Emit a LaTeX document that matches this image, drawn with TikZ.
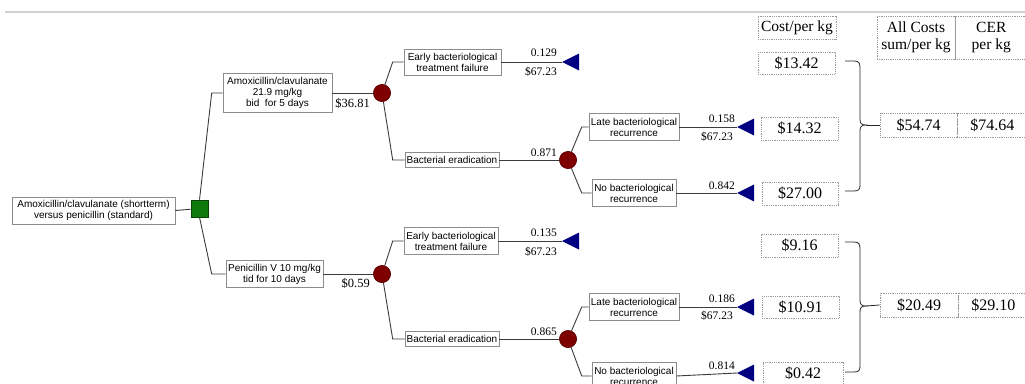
\documentclass[tikz,border=0pt]{standalone}
\usepackage{fontspec}
\setmainfont{Liberation Serif}
\setsansfont{Liberation Sans}
\definecolor{treeline}{HTML}{3C3C3C}
\definecolor{boxline}{HTML}{8C8C8C}
\definecolor{chancered}{HTML}{7E0000}
\definecolor{termblue}{HTML}{000080}
\definecolor{decgreen}{HTML}{0E7A0E}
\definecolor{dotline}{HTML}{9A9A9A}
\begin{document}
\begin{tikzpicture}[x=1pt,y=-1pt,
  tbox/.style={draw=boxline, line width=0.6pt, fill=white, inner sep=1pt, align=center,
    font=\sffamily\fontsize{10}{11}\selectfont},
  cbox/.style={draw=dotline, line width=0.6pt, dash pattern=on 1pt off 0.8pt, inner sep=0pt,
    align=center, font=\fontsize{16}{17}\selectfont},
  hbox/.style={cbox, font=\fontsize{15.5}{17}\selectfont},
  chance/.style={circle, fill=chancered, draw=chancered!75!black, line width=0.5pt, minimum size=17pt, inner sep=0pt},
  decision/.style={rectangle, fill=decgreen, draw=decgreen!55!black, line width=0.6pt, minimum size=17pt, inner sep=0pt},
  prob/.style={anchor=east, inner sep=0pt, font=\fontsize{11.5}{12}\selectfont},
  money/.style={anchor=east, inner sep=0pt, font=\fontsize{12.5}{13}\selectfont},
  conn/.style={draw=treeline, line width=0.9pt},
  term/.style={fill=termblue},
  bracestyle/.style={draw=black!85, line width=0.8pt}
]
\useasboundingbox (0,0) rectangle (1025,383);
\fill[white] (0,0) rectangle (1025,383);
\clip (0,0) rectangle (1025,383);

% page rule at the top
\draw[black!18, line width=2pt] (5,12) -- (1025,12);

% ---------------- tree nodes ----------------
\node[tbox, minimum width=163pt, minimum height=27pt] (root) at (93.5,210.5)
  {Amoxicillin/clavulanate (shortterm)\\versus penicillin (standard)};
\node[decision] (sq) at (199.5,208.5) {};

\node[tbox, minimum width=109pt, minimum height=39pt] (amx) at (277.5,93)
  {Amoxicillin/clavulanate\\21.9 mg/kg\\bid\ \ for 5 days};
\node[tbox, minimum width=97pt, minimum height=27pt] (pen) at (274.5,274)
  {Penicillin V 10 mg/kg\\tid for 10 days};

\node[chance] (c1) at (382,93) {};
\node[chance] (c2) at (382,274) {};
\node[money] (m1) at (370,103) {\$36.81};
\node[money] (m2) at (370,283) {\$0.59};

% upper sub-tree
\node[tbox, minimum width=97pt, minimum height=26pt] (ef1) at (452.5,62)
  {Early bacteriological\\treatment failure};
\node[tbox, minimum width=94pt, minimum height=15pt] (be1) at (452,160)
  {Bacterial eradication};
\node[chance] (cb1) at (568,160) {};
\node[tbox, minimum width=90pt, minimum height=27pt] (lr1) at (634,127)
  {Late bacteriological\\recurrence};
\node[tbox, minimum width=84pt, minimum height=27pt] (nr1) at (634,193)
  {No bacteriological\\recurrence};
\coordinate (t1) at (562,62);
\coordinate (t2) at (737,127);
\coordinate (t3) at (737,193);

% lower sub-tree
\node[tbox, minimum width=94pt, minimum height=27pt] (ef2) at (451,241)
  {Early bacteriological\\treatment failure};
\node[tbox, minimum width=94pt, minimum height=15pt] (be2) at (452,339)
  {Bacterial eradication};
\node[chance] (cb2) at (568,339) {};
\node[tbox, minimum width=90pt, minimum height=27pt] (lr2) at (634,307)
  {Late bacteriological\\recurrence};
\node[tbox, minimum width=84pt, minimum height=27pt] (nr2) at (634,376)
  {No bacteriological\\recurrence};
\coordinate (t4) at (562,241);
\coordinate (t5) at (737,307);
\coordinate (t6) at (737,373);

% ---------------- connectors ----------------
\draw[conn] (root.east) -- (sq);
\draw[conn] (sq.north) -- ([xshift=-11pt]amx.west) -- (amx.west);
\draw[conn] (sq.south) -- ([xshift=-14pt]pen.west) -- (pen.west);
\draw[conn] (amx.east) -- (c1);
\draw[conn] (pen.east) -- (c2);

\draw[conn] (c1) -- ([xshift=-11pt]ef1.west) -- (ef1.west);
\draw[conn] (c1) -- ([xshift=-12pt]be1.west) -- (be1.west);
\draw[conn] (ef1.east) -- (t1);
\draw[conn] (be1.east) -- (cb1);
\draw[conn] (cb1) -- ([xshift=-7pt]lr1.west) -- (lr1.west);
\draw[conn] (cb1) -- ([xshift=-10pt]nr1.west) -- (nr1.west);
\draw[conn] (lr1.east) -- (t2);
\draw[conn] (nr1.east) -- (t3);

\draw[conn] (c2) -- ([xshift=-11pt]ef2.west) -- (ef2.west);
\draw[conn] (c2) -- ([xshift=-12pt]be2.west) -- (be2.west);
\draw[conn] (ef2.east) -- (t4);
\draw[conn] (be2.east) -- (cb2);
\draw[conn] (cb2) -- ([xshift=-7pt]lr2.west) -- (lr2.west);
\draw[conn] (cb2) -- ([xshift=-10pt]nr2.west) -- (nr2.west);
\draw[conn] (lr2.east) -- (t5);
\draw[conn] (nr2.east) -- (t6);

% redraw the node symbols on top of the connectors
\node[chance] at (c1) {};
\node[chance] at (c2) {};
\node[chance] at (cb1) {};
\node[chance] at (cb2) {};
\node[decision] at (sq) {};

% terminal triangles
\foreach \t in {t1,t2,t3,t4,t5,t6}
  \fill[term] (\t) -- ++(17,-8.5) -- ++(0,17) -- cycle;

% probabilities and payoffs
\node[prob] (p1) at (557,53) {0.129};
\node[prob] (d1) at (557,72) {\$67.23};
\node[prob] (p2) at (557,153) {0.871};
\node[prob] (p3) at (735,119) {0.158};
\node[prob] (d3) at (733,137) {\$67.23};
\node[prob] (p4) at (735,186) {0.842};
\node[prob] (p5) at (557,233) {0.135};
\node[prob] (d5) at (557,252) {\$67.23};
\node[prob] (p6) at (557,332) {0.865};
\node[prob] (p7) at (735,299) {0.186};
\node[prob] (d7) at (733,316) {\$67.23};
\node[prob] (p8) at (735,366) {0.814};

% ---------------- cost table ----------------
\node[hbox, minimum width=78pt, minimum height=23pt] (hc) at (797,27.5) {Cost/per kg};
\node[hbox, minimum width=78pt, minimum height=43pt] (ha) at (916,37.5) {All Costs\\sum/per kg};
\node[hbox, minimum width=72pt, minimum height=43pt, anchor=west] (hr) at (955,37.5) {CER\\per kg};

\node[cbox, minimum width=77pt, minimum height=22pt] (k1) at (796.5,63) {\$13.42};
\node[cbox, minimum width=77pt, minimum height=23pt] (k2) at (799.5,128.5) {\$14.32};
\node[cbox, minimum width=76pt, minimum height=23pt] (k3) at (800,193.5) {\$27.00};
\node[cbox, minimum width=77pt, minimum height=23pt] (k4) at (799.5,245.5) {\$9.16};
\node[cbox, minimum width=77pt, minimum height=22pt] (k5) at (800.5,307) {\$10.91};
\node[cbox, minimum width=80pt, minimum height=23pt] (k6) at (803,373.5) {\$0.42};

\node[cbox, minimum width=77pt, minimum height=24pt] (s1) at (918.5,125) {\$54.74};
\node[cbox, minimum width=70pt, minimum height=24pt, anchor=west] (r1) at (957,125) {\$74.64};
\node[cbox, minimum width=78pt, minimum height=24pt] (s2) at (919,305) {\$20.49};
\node[cbox, minimum width=70pt, minimum height=24pt, anchor=west] (r2) at (958,305) {\$29.10};

% braces
\coordinate (b1a) at (845,61);
\coordinate (b1m) at (866,125);
\coordinate (b1b) at (845,191);
\draw[bracestyle] (b1a) -- (854,61) .. controls (859,61) and (860,63) .. (860,68)
  -- (860,119) .. controls (860,123) and (861,125) .. (b1m)
  .. controls (861,125) and (860,127) .. (860,131)
  -- (860,185) .. controls (860,189) and (859,191) .. (854,191) -- (b1b);
\draw[bracestyle] (b1m) -- (s1.west);

\coordinate (b2a) at (845,242);
\coordinate (b2m) at (866,306);
\coordinate (b2b) at (845,372);
\draw[bracestyle] (b2a) -- (854,242) .. controls (859,242) and (860,244) .. (860,249)
  -- (860,300) .. controls (860,304) and (861,306) .. (b2m)
  .. controls (861,306) and (860,308) .. (860,312)
  -- (860,366) .. controls (860,370) and (859,372) .. (854,372) -- (b2b);
\draw[bracestyle] (b2m) -- (s2.west);
\end{tikzpicture}
\end{document}
